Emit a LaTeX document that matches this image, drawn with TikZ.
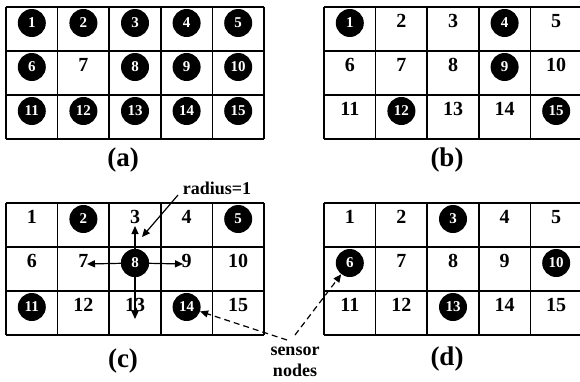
\documentclass[tikz,border=0pt]{standalone}
\usepackage{fontspec}
\setmainfont{Liberation Serif}
\usetikzlibrary{arrows.meta}
\tikzset{
  cellnum/.style={font=\fontsize{20}{20}\selectfont\bfseries, inner sep=0pt},
  sensor/.style={circle, fill=black, minimum size=28pt, inner sep=0pt, text=white,
                 font=\fontsize{15}{15}\selectfont\bfseries},
  gridline/.style={line width=1.6pt},
  caption/.style={font=\fontsize{27}{27}\selectfont\bfseries, inner sep=0pt},
  note/.style={font=\fontsize{18}{21}\selectfont\bfseries, inner sep=0pt, align=center},
  arr/.style={line width=1.2pt, -{Triangle[length=8pt,width=7pt]}},
  dasharr/.style={line width=1.2pt, dash pattern=on 6pt off 4pt, -{Triangle[length=8pt,width=7pt]}}
}
\newcommand\gridpanel[5]{%
  \foreach \i in {0,...,5} {\draw[gridline] (#2+51.6*\i,#3) -- (#2+51.6*\i,#3+132);}
  \foreach \j in {0,...,3} {\draw[gridline] (#2,#3+44*\j) -- (#2+258,#3+44*\j);}
  \foreach \n in {#4} {
    \pgfmathsetmacro\cx{#2+25.8+51.6*mod(\n-1,5)}
    \pgfmathsetmacro\cy{#3+16+44*int((\n-1)/5)}
    \node[sensor] (#1\n) at (\cx,\cy) {\n};
  }
  \foreach \n in {#5} {
    \pgfmathsetmacro\cx{#2+25.8+51.6*mod(\n-1,5)}
    \pgfmathsetmacro\cy{#3+14+44*int((\n-1)/5)}
    \node[cellnum] (#1\n) at (\cx,\cy) {\n};
  }
}
\begin{document}
\begin{tikzpicture}[x=1pt,y=-1pt]
\useasboundingbox (0,0) rectangle (580,381);
\fill[white] (0,0) rectangle (580,381);
\gridpanel{a}{6}{7}{1,2,3,4,5,6,8,9,10,11,12,13,14,15}{7}
\gridpanel{b}{324}{7}{1,4,9,12,15}{2,3,5,6,7,8,10,11,13,14}
\gridpanel{c}{6}{203}{2,5,8,11,14}{1,3,4,6,7,9,10,12,13,15}
\gridpanel{d}{324}{203}{3,6,10,13}{1,2,4,5,7,8,9,11,12,14,15}
\node[caption] (capa) at (123,160) {(a)};
\node[caption] (capb) at (447,160) {(b)};
\node[caption] (capc) at (123,361) {(c)};
\node[caption] (capd) at (447,359) {(d)};
% neighbourhood arrows in (c)
\coordinate (upend) at (135,226);
\coordinate (leftend) at (87,264);
\coordinate (rightend) at (183,264);
\coordinate (downend) at (135,319);
\draw[arr] (c8.center) -- (upend);
\draw[arr] (c8.center) -- (leftend);
\draw[arr] (c8.center) -- (rightend);
\draw[arr] (c8.center) -- (downend);
\node[sensor] at (c8.center) {8};
% radius label
\node[note] (rad) at (217,188) {radius=1};
\coordinate (radstart) at (178,195);
\coordinate (radend) at (142,237);
\draw[arr] (radstart) -- (radend);
% sensor nodes label
\node[note] (sn) at (295,362) {sensor\\nodes};
\coordinate (snA) at (287,340);
\coordinate (snB) at (295,335);
\draw[dasharr] (snA) -- (c14);
\draw[dasharr] (snB) -- (d6);
\end{tikzpicture}
\end{document}
